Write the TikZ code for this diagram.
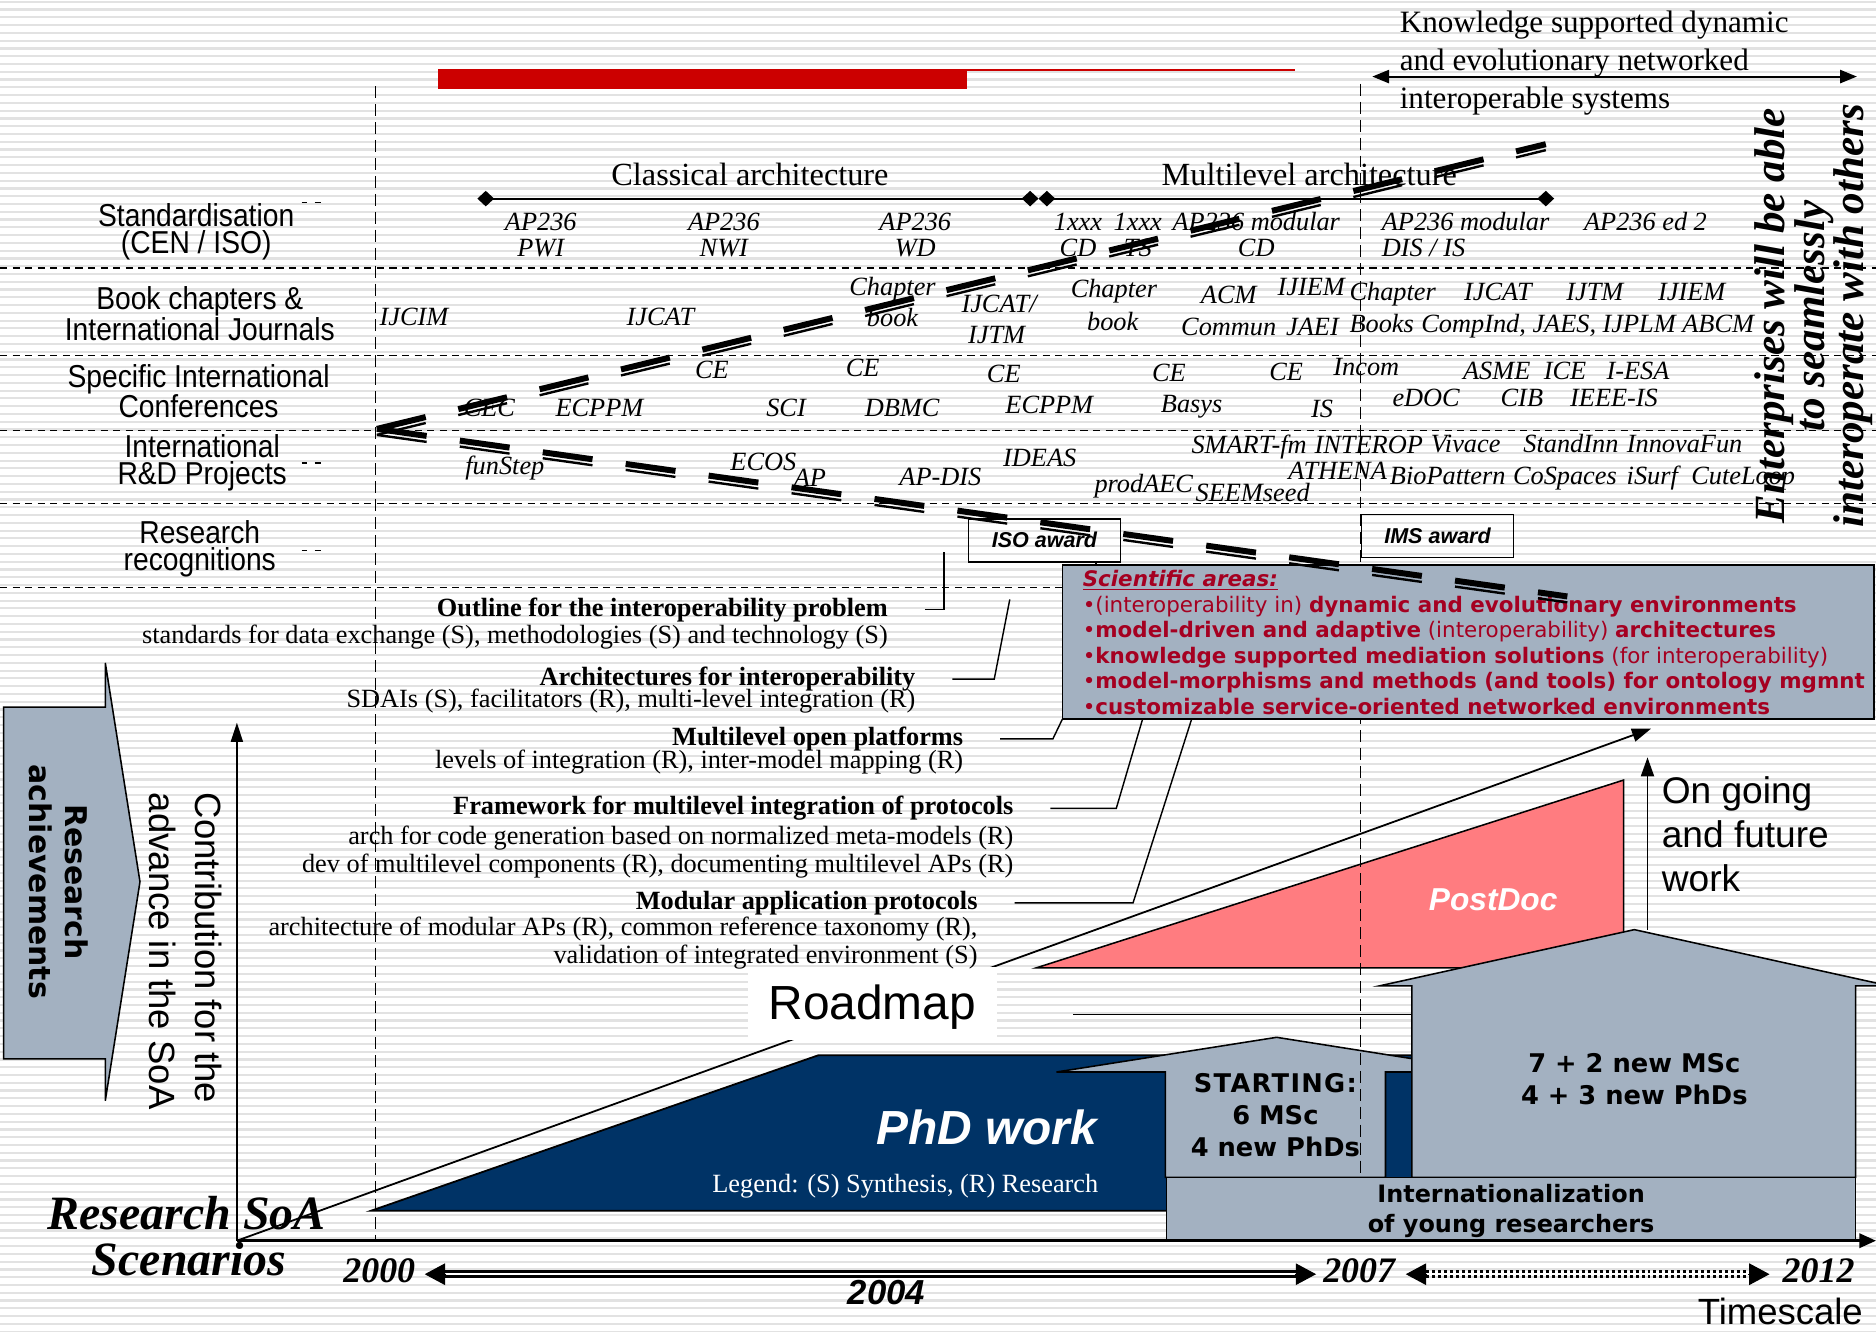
\documentclass[tikz,border=0pt]{standalone}
\usepackage{fontspec}
\setmainfont{Liberation Serif}
\newfontfamily\arialf{Liberation Sans}
\newfontfamily\narrowf[FakeStretch=0.89]{Liberation Sans}
\newfontfamily\verdf{DejaVu Sans}
\usetikzlibrary{arrows.meta}

\definecolor{paperline}{RGB}{226,226,226}
\definecolor{barred}{RGB}{204,0,0}
\definecolor{slategrey}{RGB}{163,177,193}
\definecolor{phdnavy}{RGB}{0,51,102}
\definecolor{postpink}{RGB}{255,124,128}
\definecolor{areared}{RGB}{165,0,33}

\newcommand\fsz[2]{\fontsize{#1}{#2}\selectfont}

\tikzset{
  stripeline/.style={draw=paperline, line width=1.8pt},
  rowrule/.style={line width=1.2pt, dash pattern=on 6pt off 4.5pt},
  yearrule/.style={line width=1.2pt, dash pattern=on 10pt off 5pt},
  rowlabel/.style={font=\narrowf\fsz{26.5}{22.5}, align=center},
  entry/.style={font=\itshape\fsz{22}{22}, anchor=base},
  entryw/.style={entry, anchor=base west},
  headline/.style={font=\bfseries\fsz{22}{22}, anchor=base east},
  subline/.style={font=\fsz{22}{22}, anchor=base east},
  leader/.style={line width=1.2pt},
  greyblock/.style={fill=slategrey, draw=black, line width=1.3pt},
  awardbox/.style={draw=black, line width=1.5pt, minimum width=127pt, minimum height=36pt, font=\arialf\bfseries\itshape\fsz{18}{18}},
  trend/.style={line width=1.5pt, -{Triangle[length=16pt,width=11pt]}},
  blocklabel/.style={font=\verdf\bfseries\fsz{21.5}{26.5}, align=center},
  thickdash/.style={line width=5pt, dash pattern=on 42pt off 28pt},
  thindash/.style={line width=2pt, dash pattern=on 42pt off 28pt},
  timeline/.style={line width=2.5pt, double=white, double distance=2pt},
  timetip/.style={-{Triangle[length=17pt,width=18pt]}},
}

\begin{document}
\begin{tikzpicture}[x=1pt,y=-1pt, every node/.style={inner sep=0pt, outer sep=0pt}]
\useasboundingbox (0,0) rectangle (1568,1113);

% ruled paper background
\fill[white] (0,0) rectangle (1568,1113);
\foreach \k in {0,...,171} \draw[stripeline] (0,{1.5+\k*6.5}) -- (1568,{1.5+\k*6.5});

% progress bar
\fill[barred] (366,58) rectangle (808,74);
\draw[barred, line width=1.2pt] (808,58.6) -- (1082,58.6);

% swim-lane rules
\foreach \yy in {224,297,360,421} \draw[rowrule] (0,\yy) -- (1568,\yy);
\draw[rowrule] (0,491) -- (888,491);

% growth shapes
\filldraw[fill=postpink, draw=black, line width=1.3pt] (866,809) -- (1357,652) -- (1357,809) -- cycle;
\filldraw[fill=phdnavy, draw=black, line width=1.5pt] (310,1012) -- (684,882) -- (1190,882) -- (1190,1012) -- cycle;
\coordinate (roadlineA) at (897,848);
\coordinate (roadlineB) at (1180,848);
\draw[leader] (roadlineA) -- (roadlineB);

% team block arrows
\filldraw[greyblock] (974,984) -- (974,896) -- (883,896) -- (1067,867) -- (1251,896) -- (1158,896) -- (1158,984) -- cycle;
\filldraw[greyblock] (1180,984) -- (1180,824) -- (1153,824) -- (1366,777) -- (1579,824) -- (1551,824) -- (1551,984) -- cycle;

% year markers
\draw[yearrule] (314,72) -- (314,1037);
\draw[yearrule] (1137,70) -- (1137,1037);

% internationalization base
\filldraw[greyblock] (975,984) rectangle (1551,1036);
\node[font=\verdf\bfseries\fsz{20}{25}, align=center] (intl) at (1263,1012) {Internationalization\\of young researchers};

% scientific areas panel
\filldraw[greyblock, line width=1.5pt] (888,472) rectangle (1566.5,601);
\coordinate (areasSW) at (888,601);
\node[anchor=north west, align=left, font=\verdf\fsz{17.9}{21.3}, text=areared] (areas) at (905,477) {%
\textbf{\textit{\underline{Scientific areas:}}}\\
•(interoperability in) \textbf{dynamic and evolutionary environments}\\
•\textbf{model-driven and adaptive} (interoperability) \textbf{architectures}\\
•\textbf{knowledge supported mediation solutions} (for interoperability)\\
•\textbf{model-morphisms and methods (and tools) for ontology mgmnt}\\
•\textbf{customizable service-oriented networked environments}};

% awards
\node[awardbox] (isoaward) at (873,451.5) {ISO award};
\node[awardbox] (imsaward) at (1201.5,448) {IMS award};
\draw[leader] ([xshift=43pt]isoaward.south) -- ++(0,3);

% research achievements arrow
\filldraw[greyblock] (3,591) -- (88,591) -- (88,554) -- (117,737) -- (88,920) -- (88,885) -- (3,885) -- cycle;
\node[rotate=-90, font=\verdf\bfseries\fsz{25}{30}, align=center] (achieve) at (49,737) {Research\\achievements};
\node[rotate=-90, font=\arialf\fsz{30.5}{38}, align=left] (contrib) at (155,795) {Contribution for the\\advance in the SoA};

% axes
\coordinate (origin) at (198,1037);
\coordinate (axisTop) at (198,604);
\coordinate (axisEnd) at (1568,1037);
\draw[line width=2.2pt, -{Triangle[length=14pt,width=12pt]}] (origin) -- (axisEnd);
\draw[line width=1.5pt, -{Triangle[length=16pt,width=10pt]}] (origin) -- (axisTop);
\coordinate (trendEnd) at (1380,609);
\draw[trend] (origin) -- (trendEnd);
\coordinate (futureBase) at (1377,777);
\coordinate (futureTop) at (1377,633);
\draw[trend] (futureBase) -- (futureTop);

% roadmap label
\node[fill=white, minimum width=208pt, minimum height=61pt] (roadbox) at (729,838.5) {};
\node[font=\arialf\fsz{40}{40}] (roadmap) at (729,842) {Roadmap};

% block texts
\node[font=\arialf\bfseries\itshape\fsz{26.5}{26}, text=white] (postdoc) at (1248,752) {PostDoc};
\node[font=\arialf\bfseries\itshape\fsz{40}{40}, text=white, anchor=base east] (phd) at (917,957) {PhD work};
\node[font=\fsz{22}{22}, text=white, anchor=base east] (legend) at (918,997) {Legend: (S) Synthesis, (R) Research};
\node[blocklabel] (starting) at (1066,932) {{\addfontfeature{LetterSpace=5}STARTING:}\\6 MSc\\4 new PhDs};
\node[blocklabel] (newcomers) at (1366,902) {7 + 2 new MSc\\4 + 3 new PhDs};
\node[font=\arialf\fsz{31}{37}, align=left, anchor=north west] (future) at (1389,649) {On going\\and future\\work};

% top banner
\node[font=\fsz{26}{31.5}, align=left, anchor=north west] (knowledge) at (1170,9.5) {Knowledge supported dynamic\\and evolutionary networked\\interoperable systems};
\coordinate (kwL) at (1147,64);
\coordinate (kwR) at (1552,64);
\draw[line width=1.6pt, {Triangle[length=14pt,width=11pt]}-{Triangle[length=14pt,width=11pt]}] (kwL) -- (kwR);

% architecture phases
\node[font=\fsz{27}{27}, anchor=base west] (classical) at (511,155) {Classical architecture};
\node[font=\fsz{27}{27}, anchor=base west] (multilevel) at (971,155) {Multilevel architecture};
\coordinate (clA) at (399,166);
\coordinate (clB) at (868,166);
\coordinate (mlA) at (868,166);
\coordinate (mlB) at (1299,166);
\draw[line width=1.6pt, {Diamond[length=14pt,width=13pt]}-{Diamond[length=14pt,width=13pt]}] (clA) -- (clB);
\draw[line width=1.6pt, {Diamond[length=14pt,width=13pt]}-{Diamond[length=14pt,width=13pt]}] (mlA) -- (mlB);

% lane labels
\node[rowlabel] (lstd) at (164,194) {Standardisation\\(CEN / ISO)};
\node[rowlabel] (lbook) at (167,262) {Book chapters \&\\International Journals};
\node[rowlabel] (lconf) at (166,327) {Specific International\\Conferences};
\node[rowlabel] (lproj) at (169,387) {International\\R\&D Projects};
\node[rowlabel] (lrec) at (167,459) {Research\\recognitions};
\foreach \yy in {169,387,460} {
  \draw[line width=1.1pt] (252,\yy) -- (257,\yy);
  \draw[line width=1.1pt] (263,\yy) -- (268,\yy);
}

% standardisation lane
\foreach \t/\x/\y in {AP236/452/193, PWI/452/214, AP236/605/193, NWI/605/214, AP236/765/193, WD/765/214, 1xxx/901/193, CD/901/214, 1xxx/951/193, TS/951/214, AP236 modular/1050/193, CD/1050/214}
  \node[entry, name=std-\x-\y] at (\x,\y) {\t};
\node[entryw] (stdA) at (1155,193) {AP236 modular};
\node[entryw] (stdB) at (1155,214) {DIS / IS};
\node[entryw] (stdC) at (1324,193) {AP236 ed 2};

% journals lane
\foreach \t/\x/\y in {IJCIM/346/272, IJCAT/552/272, Chapter/746/247, book/746/273, IJTM/833/287, Chapter/931/249, book/930/276, ACM/1027/254, Commun/1027/280, IJIEM/1096/247, JAEI/1097/280, IJCAT/1252/251, IJTM/1333/251, IJIEM/1414/251}
  \node[entry, name=jnl-\x-\y] at (\x,\y) {\t};
\node[entry] (jnlA) at (835,261) {IJCAT/};
\node[entryw] (jnlB) at (1128,251) {Chapter};
\node[entryw] (jnlC) at (1128,278) {Books};
\node[entryw] (jnlD) at (1188,278) {CompInd, JAES, IJPLM ABCM};

% conferences lane
\foreach \t/\x/\y in {CE/595/316, CE/721/315, CE/839/320, CE/977/319, CE/1075/318, Incom/1142/314, CEC/409/348, ECPPM/501/348, SCI/657/348, DBMC/754/348, ECPPM/877/346, Basys/996/345, IS/1105/349, eDOC/1192/340, ASME/1251/317, ICE/1308/317, I-ESA/1369/317, CIB/1272/340, IEEE-IS/1349/340}
  \node[entry, name=cnf-\x-\y] at (\x,\y) {\t};

% projects lane
\foreach \t/\x/\y in {funStep/422/397, ECOS/638/393, AP/677/407, AP-DIS/786/406, IDEAS/869/390, prodAEC/956/412, SMART-fm/1044/379, INTEROP/1144/379, ATHENA/1118/401, SEEMseed/1047/419, Vivace/1225/378, StandInn/1313/378, InnovaFun/1408/378, BioPattern/1210/405, CoSpaces/1308/405, iSurf/1381/405, CuteLoop/1457/405}
  \node[entry, name=prj-\x-\y] at (\x,\y) {\t};

% vision statement
\node[rotate=90, font=\bfseries\itshape\fsz{36}{33}, align=center] (vision) at (1516,264) {Enterprises will be able\\to seamlessly\\interoperate with others};

% contributions
\node[headline] (outlineHead) at (742,515) {Outline for the interoperability problem};
\node[subline] (outlineSub) at (742,538) {standards for data exchange (S), methodologies (S) and technology (S)};
\node[headline] (archHead) at (765,573) {Architectures for interoperability};
\node[subline] (archSub) at (765,591) {SDAIs (S), facilitators (R), multi-level integration (R)};
\node[headline] (mlHead) at (805,623) {Multilevel open platforms};
\node[subline] (mlSub) at (805,642) {levels of integration (R), inter-model mapping (R)};
\node[headline] (fwHead) at (847,681) {Framework for multilevel integration of protocols};
\node[subline] (fwSubA) at (847,706) {arch for code generation based on normalized meta-models (R)};
\node[subline] (fwSubB) at (847,729) {dev of multilevel components (R), documenting multilevel APs (R)};
\node[headline] (modHead) at (817,760) {Modular application protocols};
\node[subline] (modSubA) at (817,782) {architecture of modular APs (R), common reference taxonomy (R),};
\node[subline] (modSubB) at (817,805) {validation of integrated environment (S)};

\coordinate (outlineEnd) at (789,461);
\coordinate (archEnd) at (844,501);
\coordinate (fwEnd) at (955,601);
\coordinate (modEnd) at (996,601);
\draw[leader] ([xshift=31pt]outlineHead.east) -| (outlineEnd);
\draw[leader] ([xshift=31pt]archHead.east) -- ++(35,0) -- (archEnd);
\draw[leader] ([xshift=31pt]mlHead.east) -- ++(44,0) -- (areasSW);
\draw[leader] ([xshift=31pt]fwHead.east) -- ++(55,0) -- (fwEnd);
\draw[leader] ([xshift=31pt]modHead.east) -- ++(99,0) -- (modEnd);

% scenario labels and timescale
\node[font=\bfseries\itshape\fsz{40}{40}] (soa) at (156,1014) {Research SoA};
\node[font=\bfseries\itshape\fsz{40}{40}] (scen) at (158,1052) {Scenarios};
\node[font=\bfseries\itshape\fsz{30}{30}] (y2000) at (317,1062) {2000};
\node[font=\bfseries\itshape\fsz{30}{30}] (y2007) at (1136,1062) {2007};
\node[font=\bfseries\itshape\fsz{30}{30}] (y2012) at (1520,1062) {2012};
\node[font=\arialf\bfseries\itshape\fsz{29}{29}] (y2004) at (741,1080) {2004};
\node[font=\arialf\fsz{30.5}{30}] (tscale) at (1488,1096.5) {Timescale};
\coordinate (tA) at (355,1065);
\coordinate (tB) at (1100,1065);
\coordinate (tC) at (1175,1065);
\coordinate (tD) at (1479,1065);
\draw[timeline] ([xshift=12pt]tA) -- ([xshift=-12pt]tB);
\draw[timeline, dash pattern=on 2.5pt off 2.5pt] ([xshift=12pt]tC) -- ([xshift=-12pt]tD);
\draw[timetip, line width=1pt] ([xshift=18pt]tA) -- (tA);
\draw[timetip, line width=1pt] ([xshift=-18pt]tB) -- (tB);
\draw[timetip, line width=1pt] ([xshift=18pt]tC) -- (tC);
\draw[timetip, line width=1pt] ([xshift=-18pt]tD) -- (tD);

% evolution path: double dashed chevron
\coordinate (vertex) at (315,360);
\coordinate (upperEnd) at (1292,122);
\coordinate (lowerEnd) at (1310,500);
\draw[thickdash] ([yshift=1.5pt]vertex) -- ([yshift=1.5pt]upperEnd);
\draw[thindash] ([yshift=-3.5pt]vertex) -- ([yshift=-3.5pt]upperEnd);
\draw[thickdash] ([yshift=1.5pt]vertex) -- ([yshift=1.5pt]lowerEnd);
\draw[thindash] ([yshift=-3.5pt]vertex) -- ([yshift=-3.5pt]lowerEnd);
\end{tikzpicture}
\end{document}
